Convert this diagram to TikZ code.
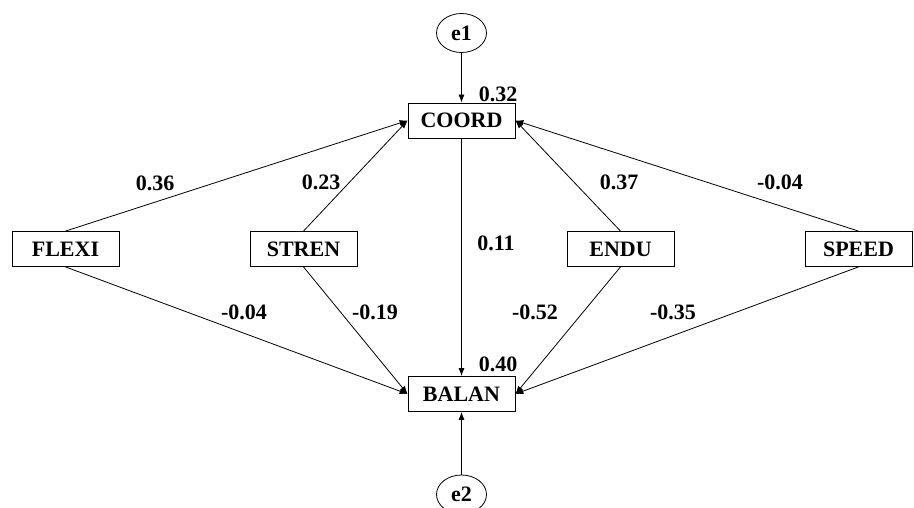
\documentclass[tikz,border=0pt]{standalone}
\usepackage{fontspec}
\setmainfont{Liberation Serif}
\usetikzlibrary{arrows.meta,shapes.geometric}

\tikzset{
  txt/.style={font=\fontsize{22}{24}\selectfont\bfseries},
  var/.style={txt, draw, line width=0.8pt, rectangle, minimum width=107pt, minimum height=35pt,
    inner sep=0pt},
  err/.style={txt, draw, line width=0.8pt, ellipse, minimum width=50pt, minimum height=39pt,
    inner sep=0pt},
  coef/.style={txt, inner sep=0pt},
  path/.style={line width=0.8pt, -{Latex[length=8pt,width=6pt]}}
}

\begin{document}
\begin{tikzpicture}[x=1pt,y=-1pt]
  \useasboundingbox (0,0) rectangle (914,508);

  % latent error terms
  \node[err] (e1) at (461.5,33) {e1};
  \node[err] (e2) at (461.5,494.5) {e2};

  % observed variables
  \node[var] (coord) at (461.5,120.5) {COORD};
  \node[var] (balan) at (461.5,394) {BALAN};
  \node[var] (flexi) at (65.5,249) {FLEXI};
  \node[var] (stren) at (303.5,249) {STREN};
  \node[var] (endu)  at (620.5,249) {ENDU};
  \node[var] (speed) at (858.5,249) {SPEED};

  % paths
  \draw[path] (e1) -- (coord);
  \draw[path] (e2) -- (balan);
  \draw[path] (coord) -- (balan);
  \draw[path] (flexi.north) -- (coord.west);
  \draw[path] (stren.north) -- (coord.west);
  \draw[path] (endu.north)  -- (coord.east);
  \draw[path] (speed.north) -- (coord.east);
  \draw[path] (flexi.south) -- (balan.west);
  \draw[path] (stren.south) -- (balan.west);
  \draw[path] (endu.south)  -- (balan.east);
  \draw[path] (speed.south) -- (balan.east);

  % coefficients
  \node[coef] (r2c) at (498,94) {0.32};
  \node[coef] (r2b) at (498,364) {0.40};
  \node[coef] (cfc) at (155,183) {0.36};
  \node[coef] (csc) at (321,182) {0.23};
  \node[coef] (cec) at (619,182) {0.37};
  \node[coef] (cpc) at (780,182) {-0.04};
  \node[coef] (ccb) at (496,243) {0.11};
  \node[coef] (cfb) at (244,312) {-0.04};
  \node[coef] (csb) at (375,312) {-0.19};
  \node[coef] (ceb) at (535,312) {-0.52};
  \node[coef] (cpb) at (673,312) {-0.35};
\end{tikzpicture}
\end{document}
